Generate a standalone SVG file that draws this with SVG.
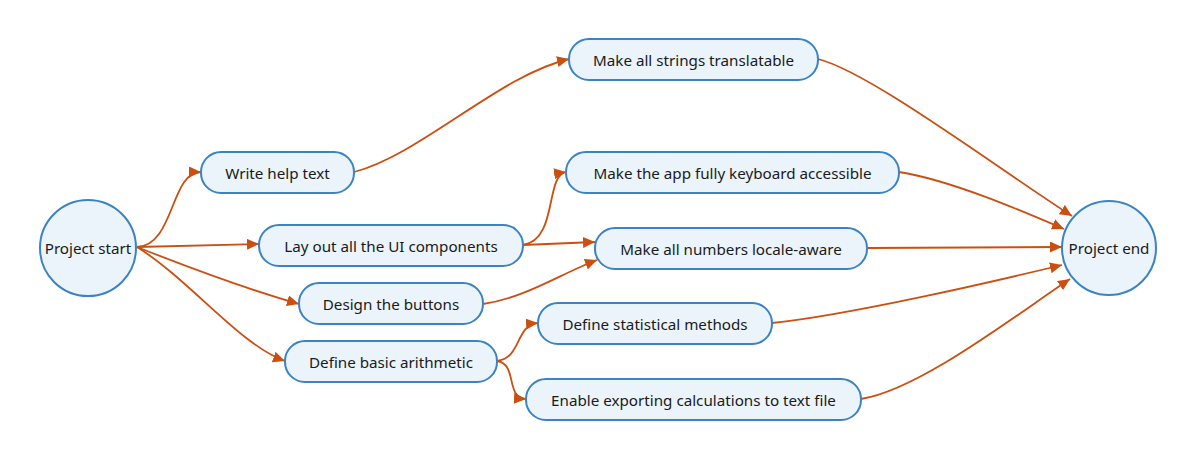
<svg xmlns="http://www.w3.org/2000/svg" width="1195" height="459" viewBox="0 0 1195 459">
<defs>
<marker id="arr" markerUnits="userSpaceOnUse" markerWidth="14" markerHeight="12" refX="12" refY="5.5" orient="auto">
<path d="M0,0 L12,5.5 L0,11 Z" fill="#CB4F10"/>
</marker>
<style>
.n{fill:#EBF3FB;stroke:#3B83C2;stroke-width:2}
.t{font-family:"Noto Sans","Open Sans",sans-serif;font-size:15.2px;fill:#1a1a1a;text-anchor:middle;dominant-baseline:central}
.e{fill:none;stroke:#CB4F10;stroke-width:1.8;marker-end:url(#arr)}
</style>
</defs>
<rect width="1195" height="459" fill="#fff"/>
<g id="connectors">
<path class="e" d="M137,247 C175,245 170,172 201,172"/>
<path class="e" d="M137,247 L259,244"/>
<path class="e" d="M137,247 C190,268 250,290 299,304"/>
<path class="e" d="M137,247 C190,280 240,345 285,361"/>
<path class="e" d="M354,172 C420,155 500,75 569,59"/>
<path class="e" d="M523,245 C558,240 545,175 566,172"/>
<path class="e" d="M523,245 L595,242"/>
<path class="e" d="M483,304 C525,298 560,274 597,260"/>
<path class="e" d="M497,361 C522,358 515,325 538,323"/>
<path class="e" d="M497,361 C518,364 505,398 526,399"/>
<path class="e" d="M818,59 C870,72 1000,170 1072,216"/>
<path class="e" d="M899,172 C950,180 1020,210 1064,229"/>
<path class="e" d="M867,248 L1062,247"/>
<path class="e" d="M772,323 C850,315 1000,280 1062,265"/>
<path class="e" d="M861,399 C920,390 1020,312 1070,279"/>
</g>
<g id="project-start"><circle class="n" cx="88" cy="248" r="48"/><text class="t" x="88" y="248">Project start</text></g>
<g id="project-end"><circle class="n" cx="1109" cy="248" r="47"/><text class="t" x="1109" y="248">Project end</text></g>
<g id="write-help"><rect class="n" x="201" y="152" width="153" height="41" rx="20"/><text class="t" x="277.5" y="172.5">Write help text</text></g>
<g id="lay-out"><rect class="n" x="259" y="225" width="264" height="41" rx="20"/><text class="t" x="391" y="245.5">Lay out all the UI components</text></g>
<g id="strings"><rect class="n" x="569" y="39" width="249" height="41" rx="20"/><text class="t" x="693.5" y="59.5">Make all strings translatable</text></g>
<g id="keyboard"><rect class="n" x="566" y="152" width="333" height="41" rx="20"/><text class="t" x="732.5" y="172.5">Make the app fully keyboard accessible</text></g>
<g id="numbers"><rect class="n" x="595" y="228" width="272" height="41" rx="20"/><text class="t" x="731" y="248.5">Make all numbers locale-aware</text></g>
<g id="buttons"><rect class="n" x="299" y="283" width="184" height="41" rx="20"/><text class="t" x="391" y="303.5">Design the buttons</text></g>
<g id="statistical"><rect class="n" x="538" y="303" width="234" height="41" rx="20"/><text class="t" x="655" y="323.5">Define statistical methods</text></g>
<g id="arithmetic"><rect class="n" x="285" y="341" width="212" height="41" rx="20"/><text class="t" x="391" y="361.5">Define basic arithmetic</text></g>
<g id="exporting"><rect class="n" x="526" y="379" width="335" height="41" rx="20"/><text class="t" x="693.5" y="399.5">Enable exporting calculations to text file</text></g>
</svg>
